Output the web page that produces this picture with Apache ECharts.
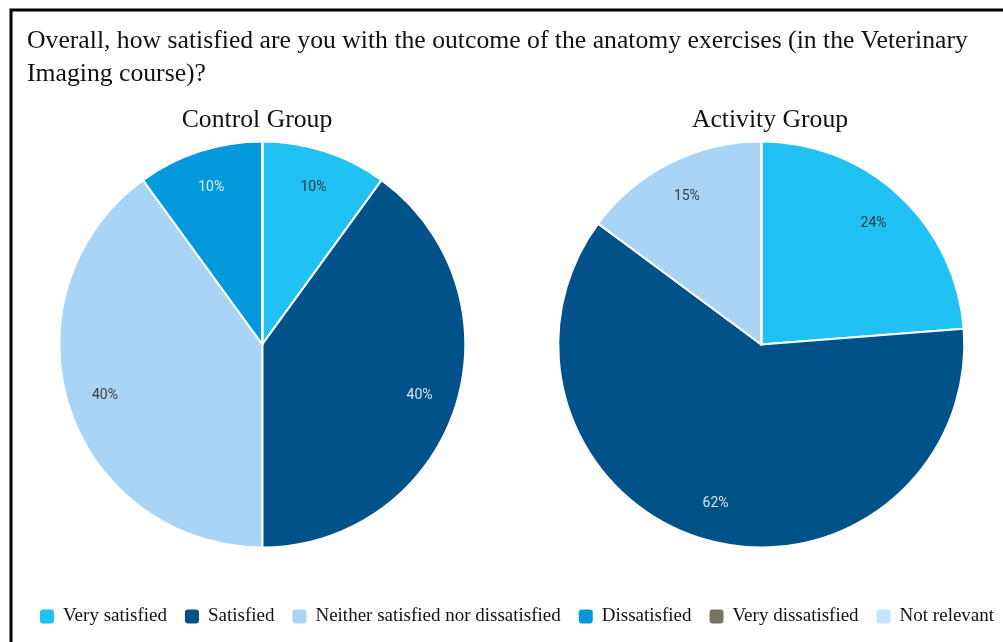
<!DOCTYPE html>
<html>
<head>
<meta charset="utf-8">
<script src="https://cdn.jsdelivr.net/npm/echarts@6/dist/echarts.min.js"></script>
<style>
  html, body { margin: 0; padding: 0; background: #fff; }
  #chart { width: 1003px; height: 642px; }
</style>
</head>
<body>
<div id="chart"></div>
<script>
// Response categories (legend order)
const categories = [
  'Very satisfied',
  'Satisfied',
  'Neither satisfied nor dissatisfied',
  'Dissatisfied',
  'Very dissatisfied',
  'Not relevant'
];
// Percent of respondents per category
const controlValues = [10, 40, 40, 10, 0, 0];
const activityValues = [24, 62, 15, 0, 0, 0];
const groupNames = ['Control Group', 'Activity Group'];
const questionText = 'Overall, how satisfied are you with the outcome of the anatomy exercises (in the Veterinary\nImaging course)?';

const palette = ['#1fc2f2', '#02528a', '#a9d4f5', '#0499dd', '#777562', '#bfe6fb'];
const labelColors = ['#2f3b44', '#d6e4ef', '#3a3f44', '#d8ecf7', '#ffffff', '#333333'];

// Slice data: colour only, no labels
function sliceData(values) {
  return categories.map((name, i) => ({
    name: name,
    value: values[i],
    itemStyle: { color: palette[i] }
  }));
}

// Label ring data: invisible sectors carrying the percentage text
function labelData(values) {
  return categories.map((name, i) => ({
    name: name,
    value: values[i],
    itemStyle: { color: 'transparent' },
    label: { color: labelColors[i], show: values[i] > 0 }
  }));
}

const serif = '"Liberation Serif", "Times New Roman", serif';
const centers = [['26.15%', '53.65%'], ['75.9%', '53.65%']];
const radius = 203;

const series = [];
[controlValues, activityValues].forEach((vals, k) => {
  series.push({
    type: 'pie',
    center: centers[k],
    radius: [0, radius],
    startAngle: 90,
    clockwise: true,
    silent: true,
    label: { show: false },
    labelLine: { show: false },
    itemStyle: { borderColor: '#ffffff', borderWidth: 2 },
    data: sliceData(vals)
  });
  series.push({
    type: 'pie',
    center: centers[k],
    radius: [radius * 0.6, radius],
    startAngle: 90,
    clockwise: true,
    silent: true,
    legendHoverLink: false,
    itemStyle: { color: 'transparent', borderWidth: 0 },
    label: {
      position: 'inside',
      formatter: p => p.value + '%',
      fontFamily: 'Roboto, sans-serif',
      fontSize: 14
    },
    labelLine: { show: false },
    data: labelData(vals)
  });
});

const chart = echarts.init(document.getElementById('chart'), null, { renderer: 'canvas' });
chart.setOption({
  animation: false,
  backgroundColor: '#ffffff',
  title: [
    {
      text: questionText,
      left: 27,
      top: 25,
      padding: 0,
      textStyle: { fontFamily: serif, fontSize: 25.7, fontWeight: 'normal', color: '#111', lineHeight: 33 }
    },
    {
      text: groupNames[0],
      left: 257,
      top: 107,
      padding: 0,
      textAlign: 'center',
      textStyle: { fontFamily: serif, fontSize: 25.7, fontWeight: 'normal', color: '#111' }
    },
    {
      text: groupNames[1],
      left: 770,
      top: 107,
      padding: 0,
      textAlign: 'center',
      textStyle: { fontFamily: serif, fontSize: 25.7, fontWeight: 'normal', color: '#111' }
    }
  ],
  legend: {
    data: categories,
    left: 38,
    top: 607,
    padding: 0,
    icon: 'roundRect',
    itemWidth: 16,
    itemHeight: 16,
    itemGap: 16,
    selectedMode: false,
    textStyle: { fontFamily: serif, fontSize: 19, color: '#111', padding: [0, 0, 0, 3] }
  },
  graphic: [
    {
      type: 'polyline',
      shape: { points: [[11, 642], [11, 10], [1003, 10]] },
      style: { stroke: '#000', lineWidth: 3, fill: null },
      silent: true
    }
  ],
  series: series
});
</script>
</body>
</html>
